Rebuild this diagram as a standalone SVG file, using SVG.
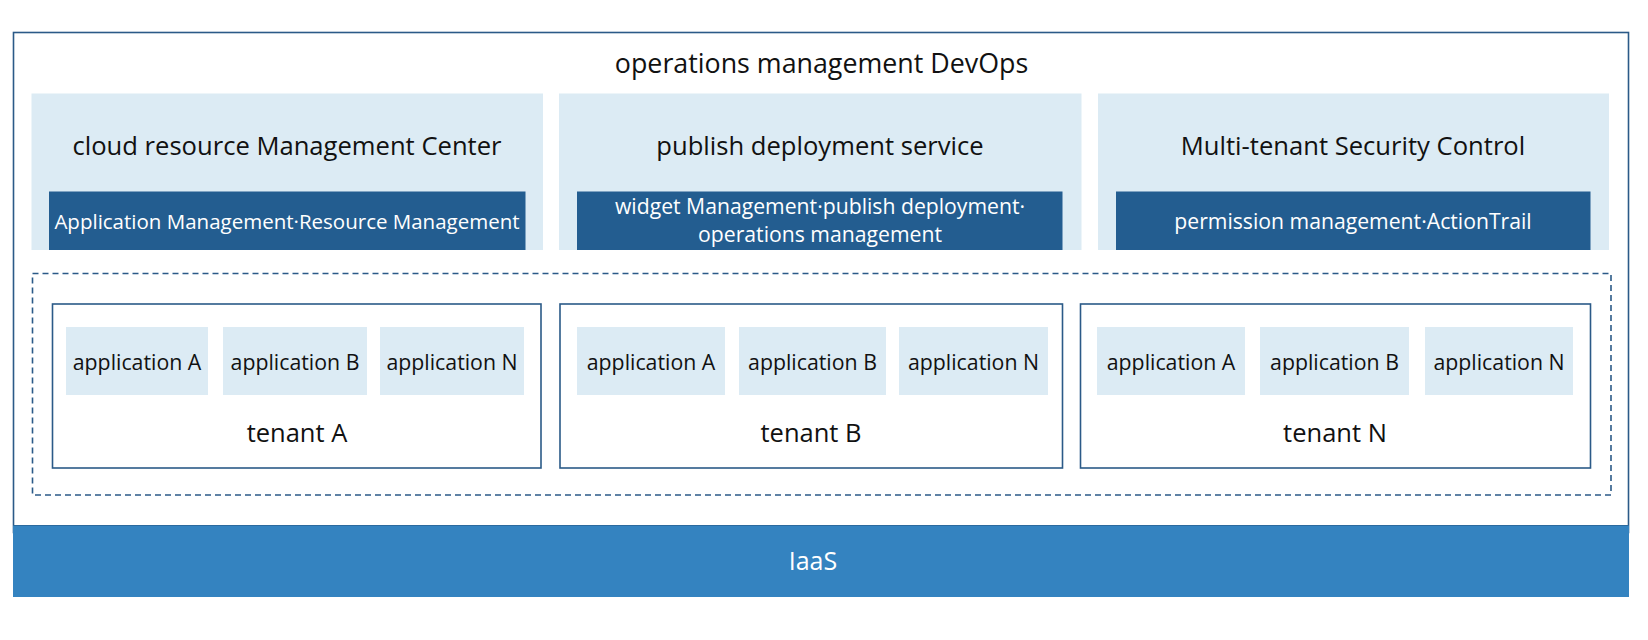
<svg xmlns="http://www.w3.org/2000/svg" width="1648" height="640" viewBox="0 0 1648 640">
<style>
text{font-family:"Open Sans","Noto Sans","Liberation Sans",sans-serif;text-anchor:middle}
.panel{fill:#dcebf4}
.dark{fill:#235d90}
.app{fill:#dcebf4}
.tenant{fill:#ffffff;stroke:#2b5a88;stroke-width:1.6}
.ptitle{font-size:25.6px;fill:#111}
.dtext{font-size:20.8px;fill:#ffffff}
.apptext{font-size:21.3px;fill:#111}
.ttext{font-size:25.5px;fill:#111}
</style>
<rect x="0" y="0" width="1648" height="640" fill="#ffffff"/>
<g id="outer">
<rect x="13.5" y="32.5" width="1615" height="500" fill="#ffffff" stroke="#2b5a88" stroke-width="1.6"/>
<text x="821.5" y="72.5" style="font-size:26.8px;fill:#111">operations management DevOps</text>
</g>
<g id="panel-cloud">
<rect class="panel" x="31.5" y="93.5" width="511.5" height="156.5"/>
<text class="ptitle" x="287" y="155">cloud resource Management Center</text>
<rect class="dark" x="49" y="191.5" width="476.5" height="58.5"/>
<text class="dtext" x="287" y="228.5" style="font-size:20.5px">Application Management·Resource Management</text>
</g>
<g id="panel-publish">
<rect class="panel" x="559" y="93.5" width="522.5" height="156.5"/>
<text class="ptitle" x="820" y="155">publish deployment service</text>
<rect class="dark" x="577" y="191.5" width="485.5" height="58.5"/>
<text class="dtext" x="820" y="214" style="font-size:21.2px">widget Management·publish deployment·</text>
<text class="dtext" x="820" y="242" style="font-size:21.2px">operations management</text>
</g>
<g id="panel-security">
<rect class="panel" x="1098" y="93.5" width="511" height="156.5"/>
<text class="ptitle" x="1353" y="155">Multi-tenant Security Control</text>
<rect class="dark" x="1116" y="191.5" width="474.5" height="58.5"/>
<text class="dtext" x="1353" y="228.5" style="font-size:21.2px">permission management·ActionTrail</text>
</g>
<g id="tenants-group">
<rect x="32.5" y="273.5" width="1578.5" height="221.5" fill="none" stroke="#2b5a88" stroke-width="1.6" stroke-dasharray="6 4"/>
</g>
<g id="tenant-a">
<rect class="tenant" x="52.5" y="304" width="488.5" height="164"/>
<rect class="app" x="66" y="327" width="142" height="68"/>
<text class="apptext" x="137" y="370">application A</text>
<rect class="app" x="223" y="327" width="144" height="68"/>
<text class="apptext" x="295" y="370">application B</text>
<rect class="app" x="380" y="327" width="144" height="68"/>
<text class="apptext" x="452" y="370">application N</text>
<text class="ttext" x="297" y="441.5">tenant A</text>
</g>
<g id="tenant-b">
<rect class="tenant" x="560" y="304" width="502.5" height="164"/>
<rect class="app" x="577" y="327" width="148" height="68"/>
<text class="apptext" x="651" y="370">application A</text>
<rect class="app" x="739" y="327" width="147" height="68"/>
<text class="apptext" x="812.5" y="370">application B</text>
<rect class="app" x="899" y="327" width="149" height="68"/>
<text class="apptext" x="973.5" y="370">application N</text>
<text class="ttext" x="811" y="441.5">tenant B</text>
</g>
<g id="tenant-n">
<rect class="tenant" x="1080.5" y="304" width="510" height="164"/>
<rect class="app" x="1097" y="327" width="148" height="68"/>
<text class="apptext" x="1171" y="370">application A</text>
<rect class="app" x="1260" y="327" width="149" height="68"/>
<text class="apptext" x="1334.5" y="370">application B</text>
<rect class="app" x="1425" y="327" width="148" height="68"/>
<text class="apptext" x="1499" y="370">application N</text>
<text class="ttext" x="1335" y="441.5">tenant N</text>
</g>
<g id="iaas">
<rect x="13" y="525" width="1616" height="72" fill="#3483c0"/>
<line x1="13" y1="525.5" x2="1629" y2="525.5" stroke="#2b6a9e" stroke-width="1"/>
<text x="813" y="570" style="font-size:25px;fill:#ffffff">IaaS</text>
</g>
<g id="connectors"></g>
</svg>
